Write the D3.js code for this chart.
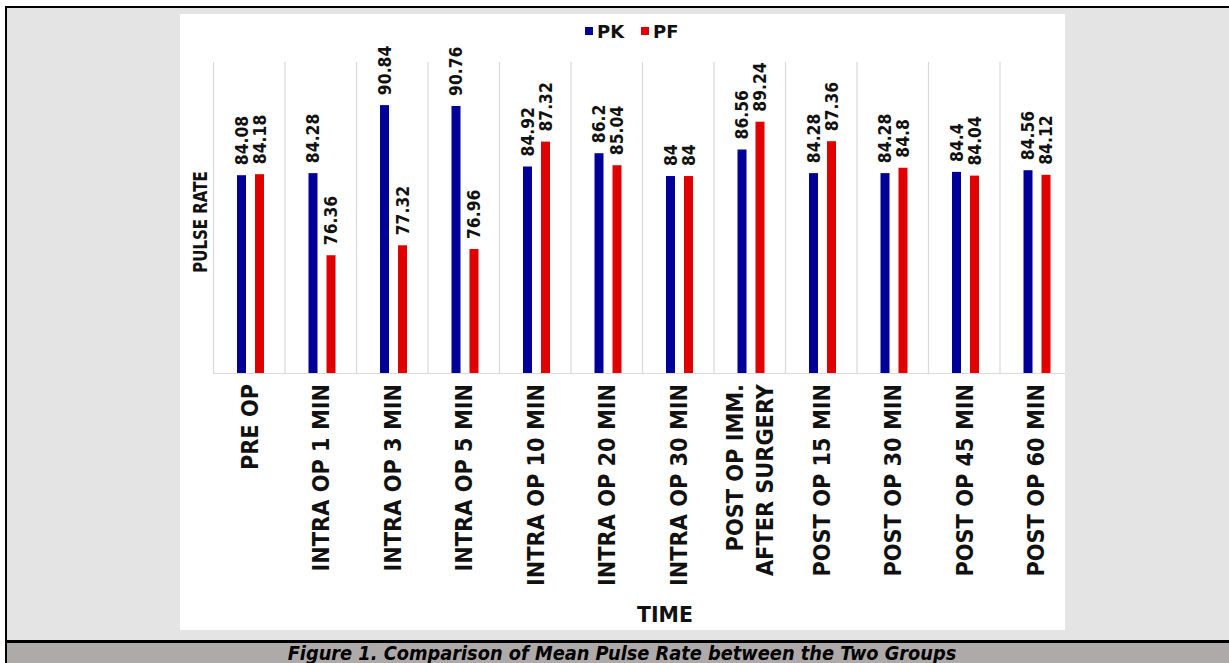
<!DOCTYPE html>
<html>
<head>
<meta charset="utf-8">
<script src="https://cdn.jsdelivr.net/npm/d3@7"></script>
<style>
  html, body { margin: 0; padding: 0; background: #ffffff; overflow: hidden; }
  svg { display: block; }
  text { font-family: "DejaVu Sans", Verdana, sans-serif; font-weight: bold; }
</style>
</head>
<body>
<svg id="chart" width="1229" height="663"></svg>
<script>
// ---------------- DATA ----------------
const categories = [
  "PRE OP",
  "INTRA OP 1 MIN",
  "INTRA OP 3 MIN",
  "INTRA OP 5 MIN",
  "INTRA OP 10 MIN",
  "INTRA OP 20 MIN",
  "INTRA OP 30 MIN",
  "POST OP IMM.\nAFTER SURGERY",
  "POST OP 15 MIN",
  "POST OP 30 MIN",
  "POST OP 45 MIN",
  "POST OP 60 MIN"
];
const seriesNames = ["PK", "PF"];
const pkValues = [84.08, 84.28, 90.84, 90.76, 84.92, 86.2, 84, 86.56, 84.28, 84.28, 84.4, 84.56];
const pfValues = [84.18, 76.36, 77.32, 76.96, 87.32, 85.04, 84, 89.24, 87.36, 84.8, 84.04, 84.12];
const pkLabels = ["84.08", "84.28", "90.84", "90.76", "84.92", "86.2", "84", "86.56", "84.28", "84.28", "84.4", "84.56"];
const pfLabels = ["84.18", "76.36", "77.32", "76.96", "87.32", "85.04", "84", "89.24", "87.36", "84.8", "84.04", "84.12"];
const yDomain = [65, 95];
const yAxisTitle = "PULSE RATE";
const xAxisTitle = "TIME";
const caption = "Figure 1. Comparison of Mean Pulse Rate between the Two Groups";

// ---------------- STYLE ----------------
const colors = { PK: "#000099", PF: "#e00000" };

const svg = d3.select("#chart");

// outer frame
svg.append("rect").attr("x", 5).attr("y", 6).attr("width", 1224).attr("height", 657).attr("fill", "#000");
svg.append("rect").attr("x", 7).attr("y", 8).attr("width", 1222).attr("height", 632).attr("fill", "#e4e4e4");
svg.append("rect").attr("x", 7).attr("y", 643).attr("width", 1222).attr("height", 20).attr("fill", "#aeaaaa");

// white chart panel
svg.append("rect").attr("x", 180).attr("y", 14).attr("width", 885).attr("height", 616).attr("fill", "#ffffff");

svg.append("defs").append("clipPath").attr("id", "panelClip")
  .append("rect").attr("x", 180).attr("y", 14).attr("width", 885).attr("height", 616);

const g = svg.append("g").attr("clip-path", "url(#panelClip)");

// scales
const x0 = d3.scaleBand().domain(categories).range([213, 1071]).paddingInner(0).paddingOuter(0);
const x1 = d3.scaleBand().domain(seriesNames).range([19.5, 55.5]).paddingInner(0.5).paddingOuter(0.25);
const y = d3.scaleLinear().domain(yDomain).range([373, 62]);

// category separators (vertical gridlines)
const seps = categories.map(c => x0(c)).concat([x0.range()[1]]);
g.selectAll("line.sep").data(seps).join("line")
  .attr("class", "sep")
  .attr("x1", d => d + 0.5).attr("x2", d => d + 0.5)
  .attr("y1", y(yDomain[1])).attr("y2", y(yDomain[0]))
  .attr("stroke", "#d9d9d9").attr("stroke-width", 1.2);

// baseline
g.append("line")
  .attr("x1", x0.range()[0]).attr("x2", x0.range()[1])
  .attr("y1", y(yDomain[0]) + 0.5).attr("y2", y(yDomain[0]) + 0.5)
  .attr("stroke", "#d9d9d9").attr("stroke-width", 1.2);

// data rows
const rows = categories.map((c, i) => ({
  cat: c,
  vals: [
    { s: "PK", v: pkValues[i], label: pkLabels[i] },
    { s: "PF", v: pfValues[i], label: pfLabels[i] }
  ]
}));

const groups = g.selectAll("g.grp").data(rows).join("g")
  .attr("class", "grp")
  .attr("transform", d => `translate(${x0(d.cat)},0)`);

groups.selectAll("rect").data(d => d.vals).join("rect")
  .attr("x", d => x1(d.s))
  .attr("width", x1.bandwidth())
  .attr("y", d => y(d.v))
  .attr("height", d => y(yDomain[0]) - y(d.v))
  .attr("fill", d => colors[d.s]);

groups.selectAll("text.val").data(d => d.vals).join("text")
  .attr("class", "val")
  .attr("transform", d => `translate(${x1(d.s) + x1.bandwidth() / 2 + 0.5},${y(d.v) - 10}) rotate(-90) scale(0.92,1)`)
  .attr("text-anchor", "start")
  .attr("dominant-baseline", "central")
  .attr("font-size", 17)
  .attr("fill", "#111")
  .text(d => d.label);

// x category labels
const xl = svg.selectAll("text.xl").data(categories).join("text")
  .attr("class", "xl")
  .attr("transform", d => `translate(${x0(d) + x0.bandwidth() / 2 + 1},384) rotate(-90) scale(0.91,1)`)
  .attr("text-anchor", "end")
  .attr("font-size", 23)
  .attr("fill", "#111");
xl.each(function(d) {
  const lines = d.split("\n");
  const sel = d3.select(this);
  const lh = 30;
  lines.forEach((ln, i) => {
    sel.append("tspan")
      .attr("x", 0)
      .attr("y", (i - (lines.length - 1) / 2) * lh)
      .attr("dominant-baseline", "central")
      .text(ln);
  });
});

// y axis title
svg.append("text")
  .attr("transform", "translate(200,222) rotate(-90) scale(0.75,1)")
  .attr("text-anchor", "middle")
  .attr("dominant-baseline", "central")
  .attr("font-size", 20)
  .attr("fill", "#111")
  .text(yAxisTitle);

// x axis title
svg.append("text")
  .attr("transform", "translate(665,622) scale(0.93,1)")
  .attr("text-anchor", "middle")
  .attr("font-size", 22)
  .attr("fill", "#111")
  .text(xAxisTitle);

// legend
const legend = svg.append("g").attr("transform", "translate(585,31)");
const legItems = [{ s: "PK", x: 0 }, { s: "PF", x: 56 }];
legend.selectAll("rect").data(legItems).join("rect")
  .attr("x", d => d.x).attr("y", -4).attr("width", 8).attr("height", 8)
  .attr("fill", d => colors[d.s]);
legend.selectAll("text").data(legItems).join("text")
  .attr("x", d => d.x + 12).attr("y", 0)
  .attr("dominant-baseline", "central")
  .attr("font-size", 18)
  .attr("fill", "#111")
  .text(d => d.s);

// caption
svg.append("text")
  .attr("transform", "translate(622,660) scale(0.913,1)")
  .attr("text-anchor", "middle")
  .attr("font-size", 19.5)
  .attr("font-style", "italic")
  .attr("fill", "#000")
  .text(caption);
</script>
</body>
</html>
